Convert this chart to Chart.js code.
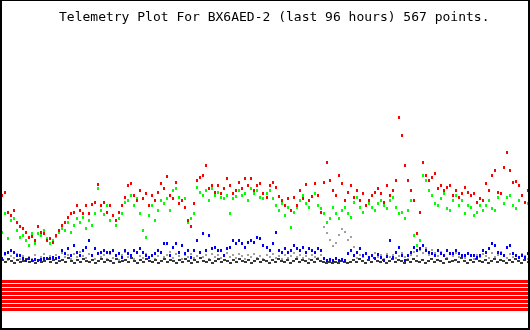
<!DOCTYPE html>
<html>
<head>
<meta charset="utf-8">
<script src="https://cdn.jsdelivr.net/npm/chart.js@4/dist/chart.umd.min.js"></script>
<style>
  html, body { margin: 0; padding: 0; background: #fff; }
  canvas { display: block; }
</style>
</head>
<body>
<canvas id="telemetry" width="530" height="330"></canvas>
<script>
// Telemetry for BX6AED-2, last 96 hours (analog channels 0-255, 8 digital bits)
const titleText = 'Telemetry Plot For BX6AED-2 (last 96 hours) 567 points.';
const spanHours = 96;

const ch1 = [ // red
  73, 76, 56, 53, 58, 46, 42, 40, 36, 31,
  32, 28, 42, 36, 35, 28, 30, 26, 33, 38,
  43, 46, 51, 55, 56, 63, 58, 55, 63, 55,
  64, 66, 84, 63, 66, 56, 63, 53, 48, 56,
  63, 71, 83, 85, 73, 68, 78, 70, 75, 63,
  73, 68, 76, 85, 80, 92, 73, 70, 86, 65,
  68, 61, 48, 42, 65, 88, 91, 93, 103, 80,
  83, 76, 83, 75, 80, 90, 83, 75, 78, 86,
  80, 90, 83, 90, 78, 83, 85, 75, 71, 83,
  86, 81, 72, 68, 63, 70, 58, 71, 63, 78,
  70, 84, 68, 72, 85, 73, 56, 86, 106, 88,
  78, 73, 93, 85, 68, 76, 83, 71, 78, 68,
  75, 63, 68, 73, 76, 80, 75, 66, 83, 73,
  78, 88, 151, 133, 103, 88, 78, 68, 35, 56,
  106, 93, 88, 91, 95, 80, 83, 78, 81, 83,
  73, 78, 71, 75, 81, 76, 73, 75, 66, 70,
  68, 85, 78, 93, 98, 76, 75, 101, 116, 98,
  86, 87, 83, 73, 66, 78
];
const ch2 = [ // green
  36, 55, 30, 48, 50, 38, 31, 33, 28, 23,
  35, 25, 35, 33, 38, 30, 25, 28, 32, 36,
  40, 38, 46, 36, 43, 50, 46, 51, 40, 48,
  43, 55, 80, 58, 54, 63, 48, 53, 43, 50,
  55, 66, 68, 73, 63, 70, 55, 38, 31, 53,
  63, 48, 58, 68, 65, 70, 58, 78, 80, 71,
  68, 70, 46, 50, 55, 81, 76, 73, 78, 68,
  80, 73, 76, 71, 70, 73, 55, 70, 72, 78,
  73, 75, 68, 80, 75, 78, 71, 70, 75, 78,
  70, 63, 58, 65, 53, 61, 41, 56, 61, 68,
  73, 65, 61, 72, 75, 63, 60, 55, 46, 50,
  61, 55, 50, 58, 61, 55, 51, 66, 71, 61,
  56, 63, 65, 61, 58, 65, 68, 63, 60, 68,
  71, 61, 55, 56, 50, 58, 68, 33, 23, 28,
  93, 88, 78, 73, 65, 63, 70, 75, 60, 58,
  68, 73, 63, 68, 55, 63, 61, 53, 56, 63,
  58, 63, 68, 60, 58, 71, 75, 65, 71, 73,
  63, 60, 68, 73, 66, 65
];
const ch3 = [ // blue
  10, 15, 16, 18, 16, 13, 13, 10, 8, 10,
  8, 9, 8, 9, 10, 10, 10, 11, 10, 11,
  18, 15, 20, 13, 23, 16, 13, 18, 21, 28,
  13, 20, 15, 16, 18, 16, 16, 18, 13, 15,
  11, 18, 15, 13, 18, 16, 20, 16, 13, 11,
  13, 15, 18, 16, 25, 25, 13, 21, 25, 16,
  23, 15, 18, 11, 18, 28, 16, 35, 18, 33,
  20, 21, 18, 18, 13, 20, 21, 28, 25, 28,
  25, 21, 26, 28, 26, 31, 30, 23, 21, 18,
  25, 36, 18, 16, 20, 16, 18, 23, 20, 18,
  21, 16, 20, 18, 16, 20, 18, 10, 8, 9,
  8, 10, 8, 9, 8, 15, 18, 13, 16, 20,
  13, 15, 11, 13, 10, 14, 11, 8, 12, 28,
  11, 16, 21, 13, 8, 13, 16, 21, 18, 20,
  23, 18, 16, 15, 13, 18, 15, 13, 18, 15,
  15, 18, 15, 13, 13, 15, 13, 13, 11, 13,
  18, 16, 20, 25, 23, 16, 15, 13, 21, 23,
  15, 13, 11, 13, 11, 15
];
const ch4 = [ // light grey
  10, 13, 8, 12, 10, 14, 9, 12, 7, 11,
  9, 13, 8, 11, 14, 9, 12, 8, 13, 10,
  15, 11, 13, 9, 14, 11, 16, 12, 10, 14,
  12, 9, 15, 11, 13, 9, 14, 10, 12, 8,
  13, 16, 11, 13, 9, 15, 12, 10, 14, 11,
  13, 9, 12, 15, 11, 13, 16, 10, 14, 12,
  9, 13, 11, 14, 10, 12, 15, 11, 13, 9,
  14, 11, 13, 10, 12, 15, 11, 13, 10, 14,
  12, 9, 13, 11, 14, 10, 12, 9, 13, 11,
  14, 10, 12, 9, 13, 10, 12, 15, 11, 13,
  10, 12, 9, 13, 11, 10, 13, 41, 35, 28,
  22, 25, 33, 39, 36, 28, 31, 21, 10, 13,
  11, 14, 10, 12, 15, 11, 13, 9, 14, 11,
  13, 10, 12, 15, 11, 9, 13, 16, 12, 18,
  15, 20, 13, 18, 15, 12, 16, 13, 10, 14,
  12, 15, 11, 13, 10, 14, 12, 9, 13, 11,
  14, 12, 10, 15, 11, 13, 16, 12, 10, 14,
  11, 13, 10, 14, 12, 9
];
const ch5 = [ // dark grey
  8, 6, 9, 7, 5, 8, 6, 7, 9, 6,
  7, 5, 8, 6, 7, 9, 6, 8, 5, 7,
  8, 6, 10, 7, 5, 8, 6, 9, 7, 6,
  8, 5, 7, 9, 6, 8, 7, 5, 9, 6,
  7, 8, 6, 10, 7, 5, 8, 6, 9, 7,
  6, 8, 5, 7, 9, 6, 8, 7, 5, 8,
  6, 9, 7, 5, 8, 6, 10, 7, 6, 8,
  5, 7, 9, 6, 8, 7, 5, 8, 6, 9,
  7, 6, 8, 5, 7, 9, 6, 8, 7, 5,
  8, 6, 9, 7, 6, 8, 5, 7, 9, 6,
  8, 7, 5, 8, 6, 9, 7, 6, 5, 6,
  5, 6, 5, 7, 6, 5, 6, 8, 6, 9,
  7, 5, 8, 6, 10, 7, 6, 8, 5, 7,
  9, 6, 8, 7, 5, 8, 6, 9, 7, 6,
  8, 5, 7, 9, 6, 8, 7, 5, 9, 6,
  7, 8, 6, 10, 7, 5, 8, 6, 9, 7,
  6, 8, 5, 7, 9, 6, 8, 7, 5, 8,
  6, 9, 7, 5, 8, 6
];
// digital bits B1..B8, all set for the whole period
const bits = [1, 1, 1, 1, 1, 1, 1, 1];

// sample times, evenly spaced over the window
const hours = ch1.map((_, i) => i * spanHours / (ch1.length - 1));

function mark(color, w, h) {
  const c = document.createElement('canvas');
  c.width = w; c.height = h;
  const g = c.getContext('2d');
  g.fillStyle = color;
  g.fillRect(0, 0, w, h);
  return c;
}

function analog(values, color, w, h) {
  return {
    data: values.map((v, i) => ({ x: hours[i], y: v })),
    pointStyle: mark(color, w, h),
    pointRadius: 2,
    showLine: false,
    yAxisID: 'y'
  };
}

const bitSets = bits.map((b, i) => ({
  type: 'line',
  data: [{ x: 0, y: 7 - i }, { x: spanHours, y: 7 - i }],
  hidden: !b,
  borderColor: '#ff0000',
  borderWidth: 3,
  pointRadius: 0,
  showLine: true,
  yAxisID: 'y2'
}));

const frame = {
  id: 'frame',
  beforeDatasetsDraw(chart) {
    chart.ctx.imageSmoothingEnabled = false;
  },
  afterDraw(chart) {
    const ctx = chart.ctx;
    const w = chart.width, h = chart.height;
    ctx.save();
    ctx.fillStyle = '#000';
    ctx.fillRect(0, 0, w, 1);
    ctx.fillRect(0, 0, 2, h);
    ctx.fillRect(w - 2, 0, 2, h);
    ctx.fillRect(0, h - 2, w, 2);
    ctx.font = '13px "DejaVu Sans Mono", monospace';
    ctx.textAlign = 'left';
    ctx.textBaseline = 'alphabetic';
    ctx.fillText(titleText, 59, 21);
    ctx.restore();
  }
};

new Chart(document.getElementById('telemetry'), {
  type: 'scatter',
  data: {
    datasets: [
      analog(ch1, '#ff0000', 2, 3),
      analog(ch2, '#00ff00', 2, 3),
      analog(ch3, '#0000ff', 2, 3),
      analog(ch5, '#383838', 3, 2),
      analog(ch4, '#a0a0a0', 2, 2),
      ...bitSets
    ]
  },
  options: {
    responsive: false,
    animation: false,
    layout: { autoPadding: false, padding: { left: 2, right: 2, top: 1, bottom: 2 } },
    plugins: { legend: { display: false }, tooltip: { enabled: false }, title: { display: false } },
    scales: {
      x: { type: 'linear', min: 0, max: spanHours, display: false },
      y: { min: -60, max: 267, display: false },
      y2: { min: -4.625, max: 77.125, display: false }
    }
  },
  plugins: [frame]
});
</script>
</body>
</html>
